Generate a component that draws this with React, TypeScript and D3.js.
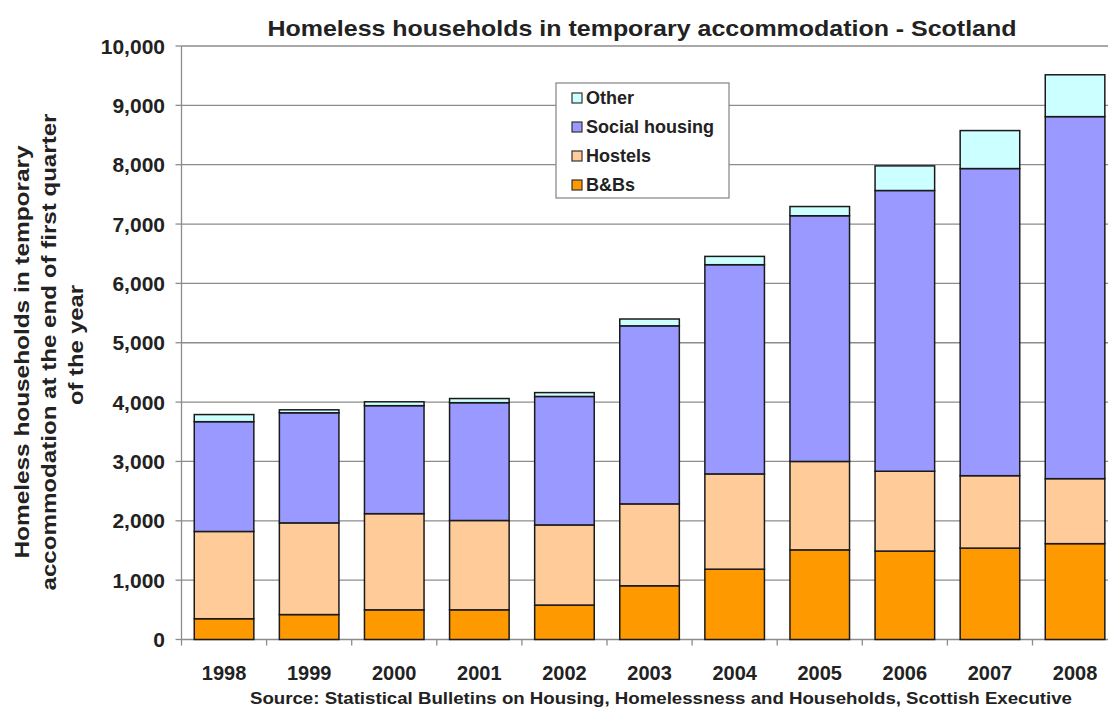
import React from "react";
import * as d3 from "d3";

const years = ["1998", "1999", "2000", "2001", "2002", "2003", "2004", "2005", "2006", "2007", "2008"];
const bnbs = [350, 420, 500, 500, 580, 905, 1185, 1510, 1490, 1540, 1615];
const hostels = [1470, 1545, 1620, 1505, 1350, 1380, 1605, 1490, 1345, 1220, 1095];
const social = [1850, 1855, 1820, 1985, 2165, 3000, 3525, 4140, 4730, 5175, 6100];
const other = [120, 50, 65, 70, 65, 115, 140, 155, 415, 640, 705];
const yTicks = [0, 1000, 2000, 3000, 4000, 5000, 6000, 7000, 8000, 9000, 10000];

const seriesKeys = ["bnbs", "hostels", "social", "other"];
const seriesNames: Record<string, string> = {
  bnbs: "B&Bs",
  hostels: "Hostels",
  social: "Social housing",
  other: "Other",
};
const colors: Record<string, string> = {
  bnbs: "#ff9900",
  hostels: "#ffcc99",
  social: "#9999ff",
  other: "#ccffff",
};

const W = 1108;
const H = 709;
const FONT = "'Liberation Sans', Arial, Helvetica, sans-serif";

export default function App() {
  const rows = years.map((y, i) => ({
    year: y,
    bnbs: bnbs[i],
    hostels: hostels[i],
    social: social[i],
    other: other[i],
  }));
  const stack = d3.stack<any>().keys(seriesKeys)(rows);

  const x = d3
    .scaleBand<string>()
    .domain(years)
    .range([181.5, 1117.6])
    .paddingInner(0.3)
    .paddingOuter(0.15);
  const y = d3.scaleLinear().domain([0, 10000]).range([639.5, 46]);
  const fmt = d3.format(",");
  const step = x.step();
  const plotLeft = 181.5;
  const plotRight = 1117.6;

  const legendOrder = ["other", "social", "hostels", "bnbs"];

  return (
    <svg
      width={W}
      height={H}
      style={{ position: "absolute", left: 0, top: 0, background: "#fff" }}
      fontFamily={FONT}
    >
      <rect x={0} y={0} width={W} height={H} fill="#fff" />
      {/* gridlines */}
      {yTicks.map((t) => (
        <line
          key={"g" + t}
          x1={plotLeft}
          x2={plotRight}
          y1={y(t)}
          y2={y(t)}
          stroke="#8c8c8c"
          strokeWidth={1.3}
        />
      ))}
      {/* y axis */}
      <line x1={plotLeft} x2={plotLeft} y1={y(10000)} y2={y(0)} stroke="#8c8c8c" strokeWidth={1.3} />
      {yTicks.map((t) => (
        <g key={"t" + t}>
          <line x1={plotLeft - 6} x2={plotLeft} y1={y(t)} y2={y(t)} stroke="#8c8c8c" strokeWidth={1.3} />
          <text
            x={165}
            y={y(t)}
            dy="0.36em"
            textAnchor="end"
            fontSize={21}
            fontWeight="bold"
            fill="#222"
          >
            {fmt(t)}
          </text>
        </g>
      ))}
      {/* x axis ticks */}
      {years.map((yr, i) => (
        <line
          key={"xt" + yr}
          x1={plotLeft + i * step}
          x2={plotLeft + i * step}
          y1={y(0)}
          y2={y(0) + 6}
          stroke="#8c8c8c"
          strokeWidth={1.3}
        />
      ))}
      {/* bars */}
      {stack.map((layer) => (
        <g key={layer.key}>
          {layer.map((d, i) => (
            <rect
              key={years[i]}
              x={x(years[i])}
              y={y(d[1])}
              width={x.bandwidth()}
              height={y(d[0]) - y(d[1])}
              fill={colors[layer.key]}
              stroke="#1a1a1a"
              strokeWidth={1.5}
            />
          ))}
        </g>
      ))}
      {/* x labels */}
      {years.map((yr) => (
        <text
          key={"xl" + yr}
          x={(x(yr) as number) + x.bandwidth() / 2}
          y={680}
          textAnchor="middle"
          fontSize={20}
          fontWeight="bold"
          fill="#222"
        >
          {yr}
        </text>
      ))}
      {/* title */}
      <text
        x={642}
        y={36}
        textAnchor="middle"
        fontSize={22}
        fontWeight="bold"
        fill="#222"
        textLength={749}
        lengthAdjust="spacingAndGlyphs"
      >
        Homeless households in temporary accommodation - Scotland
      </text>
      {/* source */}
      <text
        x={661}
        y={704}
        textAnchor="middle"
        fontSize={16}
        fontWeight="bold"
        fill="#222"
        textLength={822}
        lengthAdjust="spacingAndGlyphs"
      >
        Source: Statistical Bulletins on Housing, Homelessness and Households, Scottish Executive
      </text>
      {/* y axis title */}
      <g transform="translate(0,352) rotate(-90)" fontSize={21} fontWeight="bold" fill="#222">
        <text x={0} y={29} textAnchor="middle" textLength={413} lengthAdjust="spacingAndGlyphs">
          Homeless households in temporary
        </text>
        <text x={0} y={56} textAnchor="middle" textLength={477} lengthAdjust="spacingAndGlyphs">
          accommodation at the end of first quarter
        </text>
        <text x={7} y={83} textAnchor="middle" textLength={120} lengthAdjust="spacingAndGlyphs">
          of the year
        </text>
      </g>
      {/* legend */}
      <rect x={556} y={83} width={173} height={115} fill="#fff" stroke="#8c8c8c" strokeWidth={1.3} />
      {legendOrder.map((k, i) => (
        <g key={"lg" + k} transform={`translate(572, ${98 + i * 29})`}>
          <rect x={0} y={-5} width={10} height={10} fill={colors[k]} stroke="#333" strokeWidth={1.2} />
          <text x={14} y={0} dy="0.36em" fontSize={18} fontWeight="bold" fill="#222">
            {seriesNames[k]}
          </text>
        </g>
      ))}
    </svg>
  );
}
